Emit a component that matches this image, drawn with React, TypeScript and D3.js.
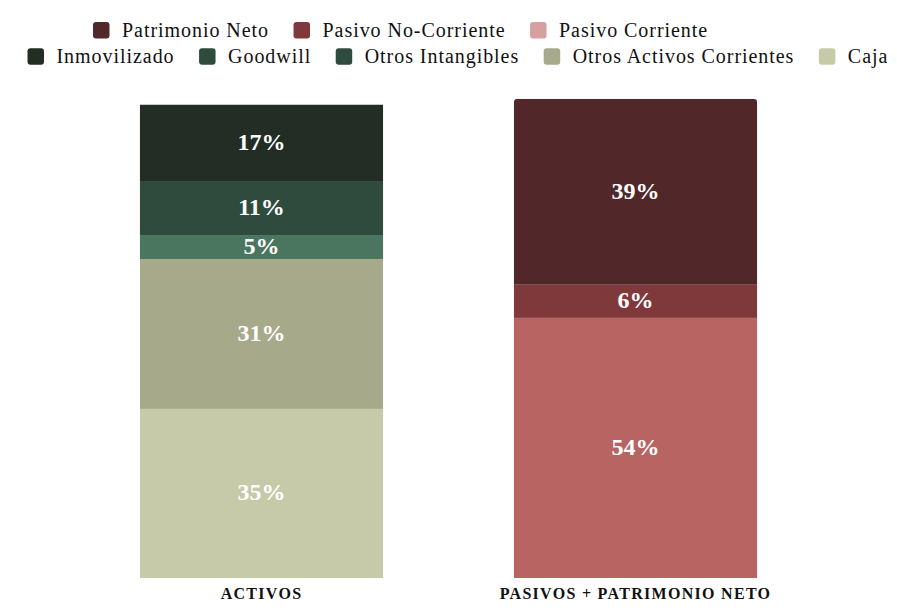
import React, { useEffect, useRef } from "react";
import * as d3 from "d3";

const categories = ["ACTIVOS", "PASIVOS + PATRIMONIO NETO"];

// Activos, bottom to top
const activosNames = ["Caja", "Otros Activos Corrientes", "Otros Intangibles", "Goodwill", "Inmovilizado"];
const activosValues = [35.3, 31.3, 5.0, 11.1, 16.1];
const activosLabels = ["35%", "31%", "5%", "11%", "17%"];
const activosColors = ["#c7caa9", "#a6a98a", "#4a7660", "#2f4b3e", "#212d25"];

// Pasivos + Patrimonio Neto, bottom to top
const pasivosNames = ["Pasivo Corriente", "Pasivo No-Corriente", "Patrimonio Neto"];
const pasivosValues = [54.3, 6.9, 38.8];
const pasivosLabels = ["54%", "6%", "39%"];
const pasivosColors = ["#b86462", "#7f393b", "#522729"];

const legendRow1 = ["Patrimonio Neto", "Pasivo No-Corriente", "Pasivo Corriente"];
const legendRow1Colors = ["#522729", "#7f393b", "#d4a0a0"];
const legendRow2 = ["Inmovilizado", "Goodwill", "Otros Intangibles", "Otros Activos Corrientes", "Caja"];
const legendRow2Colors = ["#212d25", "#2f4b3e", "#2f4b3e", "#a6a98a", "#c7caa9"];

const W = 897;
const H = 612;
const FONT = "Liberation Serif";

export default function App() {
  const ref = useRef<SVGSVGElement | null>(null);

  useEffect(() => {
    const svg = d3.select(ref.current);
    svg.selectAll("*").remove();

    const x = d3
      .scaleBand<string>()
      .domain(categories)
      .range([74.5, 822.5])
      .paddingInner(0.35)
      .paddingOuter(0.175);
    const y = d3.scaleLinear().domain([0, 100]).range([578, 99]);

    const series = [
      { cat: categories[0], names: activosNames, values: activosValues, labels: activosLabels, colors: activosColors, round: false },
      { cat: categories[1], names: pasivosNames, values: pasivosValues, labels: pasivosLabels, colors: pasivosColors, round: true },
    ];

    const g = svg.append("g");
    series.forEach((s) => {
      const x0 = x(s.cat)!;
      const bw = x.bandwidth();
      let acc = 0;
      s.values.forEach((v, i) => {
        const y0 = y(acc);
        const y1 = y(acc + v);
        acc += v;
        const isTop = i === s.values.length - 1;
        if (isTop && s.round) {
          const r = 3;
          const p = d3.path();
          p.moveTo(x0, y0);
          p.lineTo(x0, y1 + r);
          p.quadraticCurveTo(x0, y1, x0 + r, y1);
          p.lineTo(x0 + bw - r, y1);
          p.quadraticCurveTo(x0 + bw, y1, x0 + bw, y1 + r);
          p.lineTo(x0 + bw, y0);
          p.closePath();
          g.append("path").attr("d", p.toString()).attr("fill", s.colors[i]);
        } else {
          g.append("rect")
            .attr("x", x0)
            .attr("y", y1)
            .attr("width", bw)
            .attr("height", y0 - y1)
            .attr("fill", s.colors[i]);
        }
        g.append("text")
          .attr("x", x0 + bw / 2)
          .attr("y", (y0 + y1) / 2 + 7)
          .attr("text-anchor", "middle")
          .attr("fill", "#ffffff")
          .attr("font-family", FONT)
          .attr("font-weight", "bold")
          .attr("font-size", 24)
          .text(s.labels[i]);
      });
      g.append("text")
        .attr("x", x0 + bw / 2)
        .attr("y", 599)
        .attr("text-anchor", "middle")
        .attr("fill", "#111111")
        .attr("font-family", FONT)
        .attr("font-weight", "bold")
        .attr("font-size", 16)
        .attr("letter-spacing", 1.3)
        .text(s.cat);
    });

    // Legend
    const drawRow = (names: string[], colors: string[], startX: number, squareY: number, baseY: number) => {
      let cx = startX;
      names.forEach((n, i) => {
        svg.append("rect")
          .attr("x", cx)
          .attr("y", squareY)
          .attr("width", 16.5)
          .attr("height", 16.5)
          .attr("rx", 3)
          .attr("fill", colors[i]);
        const t = svg.append("text")
          .attr("x", cx + 16.5 + 12.5)
          .attr("y", baseY)
          .attr("fill", "#111111")
          .attr("font-family", FONT)
          .attr("font-size", 20)
          .attr("letter-spacing", 0.95)
          .text(n);
        const w = (t.node() as SVGTextElement).getComputedTextLength();
        cx = cx + 16.5 + 12.5 + w + 24.5;
      });
    };
    drawRow(legendRow1, legendRow1Colors, 93, 22, 36.5);
    drawRow(legendRow2, legendRow2Colors, 27.5, 48.3, 62.8);
  }, []);

  return (
    <svg
      ref={ref}
      width={W}
      height={H}
      style={{ position: "absolute", left: 0, top: 0, background: "#ffffff" }}
    />
  );
}
